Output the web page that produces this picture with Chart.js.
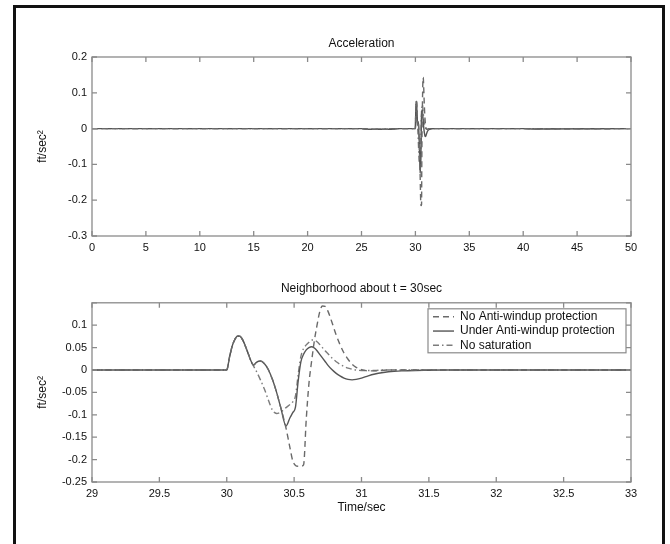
<!DOCTYPE html>
<html>
<head>
<meta charset="utf-8">
<script src="https://cdn.jsdelivr.net/npm/chart.js@4.4.0/dist/chart.umd.min.js"></script>
<style>
  body { margin: 0; background: #fff; }
  #wrap { position: relative; width: 670px; height: 544px; overflow: hidden; background: #fff; }
  #wrap canvas { position: absolute; left: 0; }
  #topChart { top: 0; }
  #bottomChart { top: 268px; }
  #frame { position: absolute; left: 13px; top: 5px; width: 646px; height: 600px; border: 3px solid #111; }
</style>
</head>
<body>
<div id="wrap">
  <canvas id="topChart" width="670" height="268"></canvas>
  <canvas id="bottomChart" width="670" height="276"></canvas>
  <div id="frame"></div>
</div>
<script>
// time samples (sec), shared by all three runs
const timeSec = [0, 25, 25.8, 27.5, 28.5, 29, 30, 30.02, 30.04, 30.06, 30.08, 30.1, 30.12, 30.14, 30.16, 30.18,
  30.2, 30.22, 30.25, 30.28, 30.31, 30.34, 30.37, 30.4, 30.44, 30.47, 30.49, 30.51, 30.53, 30.55, 30.57, 30.59,
  30.61, 30.63, 30.65, 30.67, 30.69, 30.71, 30.73, 30.75, 30.78, 30.81, 30.84, 30.87, 30.9, 30.93, 30.96, 31,
  31.05, 31.1, 31.15, 31.2, 31.3, 31.4, 31.6, 32, 33, 40, 41, 50];

// acceleration, ft/sec^2
const noAntiWindup = [0, 0, -0.002, -0.002, 0, 0, 0, 0.028, 0.053, 0.068, 0.076, 0.075, 0.066, 0.052, 0.036, 0.02,
  0.011, 0.017, 0.02, 0.014, 0, -0.022, -0.05, -0.083, -0.13, -0.175, -0.203, -0.213, -0.215, -0.215, -0.212, -0.11,
  -0.03, 0.02, 0.065, 0.1, 0.13, 0.143, 0.142, 0.132, 0.107, 0.08, 0.057, 0.038, 0.024, 0.013, 0.006, 0.001,
  -0.002, -0.002, -0.001, 0, 0, 0, 0, 0, 0, 0, -0.001, 0];
const underAntiWindup = [0, 0, -0.002, -0.002, 0, 0, 0, 0.028, 0.053, 0.068, 0.076, 0.075, 0.066, 0.052, 0.036, 0.02,
  0.011, 0.017, 0.02, 0.014, 0, -0.022, -0.05, -0.083, -0.125, -0.106, -0.095, -0.083, -0.025, 0.018, 0.035, 0.045,
  0.05, 0.052, 0.049, 0.043, 0.035, 0.027, 0.019, 0.011, 0.001, -0.007, -0.013, -0.018, -0.021, -0.022, -0.021, -0.018,
  -0.013, -0.009, -0.006, -0.004, -0.002, -0.001, 0, 0, 0, 0, -0.001, 0];
const noSaturation = [0, 0, -0.002, -0.001, 0, 0, 0, 0.028, 0.053, 0.068, 0.076, 0.075, 0.066, 0.052, 0.036, 0.02,
  0.008, -0.003, -0.022, -0.043, -0.068, -0.09, -0.097, -0.094, -0.084, -0.077, -0.071, -0.058, -0.01, 0.03, 0.048, 0.056,
  0.062, 0.067, 0.067, 0.063, 0.057, 0.05, 0.043, 0.037, 0.027, 0.019, 0.013, 0.008, 0.004, 0.002, 0, -0.001,
  -0.001, -0.001, 0, 0, 0, 0, 0, 0, 0, 0, 0, 0];

const seriesLabels = ['No Anti-windup protection', 'Under Anti-windup protection', 'No saturation'];

// tick values
const topXTicks = [0, 5, 10, 15, 20, 25, 30, 35, 40, 45, 50];
const topYTicks = [0.2, 0.1, 0, -0.1, -0.2, -0.3];
const bottomXTicks = [29, 29.5, 30, 30.5, 31, 31.5, 32, 32.5, 33];
const bottomYTicks = [0.15, 0.1, 0.05, 0, -0.05, -0.1, -0.15, -0.2, -0.25];

const FONT = '"Liberation Sans", Arial, Helvetica, sans-serif';
const TEXT = '#111';
const AXIS = '#8a8a8a';
Chart.defaults.font.family = FONT;
Chart.defaults.font.size = 11;
Chart.defaults.color = TEXT;

function fmt(v) { return String(+Number(v).toFixed(2)); }

function toPoints(values) {
  return timeSec.map((t, i) => ({ x: t, y: values[i] }));
}

function makeDatasets() {
  return [
    { label: seriesLabels[0], data: toPoints(noAntiWindup), borderColor: '#6a6a6a', borderWidth: 1.4, borderDash: [6, 4] },
    { label: seriesLabels[1], data: toPoints(underAntiWindup), borderColor: '#555555', borderWidth: 1.4, borderDash: [] },
    { label: seriesLabels[2], data: toPoints(noSaturation), borderColor: '#7c7c7c', borderWidth: 1.4, borderDash: [6, 3, 1.5, 3] }
  ].map(d => Object.assign(d, { pointRadius: 0, fill: false, cubicInterpolationMode: 'monotone' }));
}

// matlab style box with inward ticks on all four sides
const boxTicks = {
  id: 'boxTicks',
  afterDatasetsDraw(chart) {
    const { ctx, chartArea: a, scales: { x, y } } = chart;
    ctx.save();
    ctx.strokeStyle = AXIS;
    ctx.lineWidth = 1.3;
    ctx.strokeRect(a.left, a.top, a.right - a.left, a.bottom - a.top);
    ctx.beginPath();
    x.ticks.forEach(t => {
      const px = x.getPixelForValue(t.value);
      ctx.moveTo(px, a.bottom); ctx.lineTo(px, a.bottom - 5);
      ctx.moveTo(px, a.top); ctx.lineTo(px, a.top + 5);
    });
    y.ticks.forEach(t => {
      const py = y.getPixelForValue(t.value);
      ctx.moveTo(a.left, py); ctx.lineTo(a.left + 5, py);
      ctx.moveTo(a.right, py); ctx.lineTo(a.right - 5, py);
    });
    ctx.stroke();
    ctx.restore();
  }
};

// boxed legend inside the top right corner of the plot
const legendBox = {
  id: 'legendBox',
  afterDraw(chart, args, opts) {
    if (!opts.show) return;
    const { ctx, chartArea: a } = chart;
    const w = 198, h = 44;
    const left = a.right - 203, top = a.top + 6;
    ctx.save();
    ctx.fillStyle = '#fff';
    ctx.fillRect(left, top, w, h);
    ctx.strokeStyle = AXIS;
    ctx.lineWidth = 1.2;
    ctx.strokeRect(left, top, w, h);
    ctx.font = '12px ' + FONT;
    ctx.textBaseline = 'middle';
    chart.data.datasets.forEach((ds, i) => {
      const cy = top + 8 + i * 14.25;
      ctx.strokeStyle = ds.borderColor;
      ctx.lineWidth = ds.borderWidth;
      ctx.setLineDash(ds.borderDash);
      ctx.beginPath();
      ctx.moveTo(left + 5, cy);
      ctx.lineTo(left + 26, cy);
      ctx.stroke();
      ctx.setLineDash([]);
      ctx.fillStyle = TEXT;
      ctx.fillText(ds.label, left + 32, cy);
    });
    ctx.restore();
  }
};

function makeChart(id, cfg) {
  return new Chart(document.getElementById(id), {
    type: 'line',
    data: { datasets: makeDatasets() },
    plugins: [boxTicks, legendBox],
    options: {
      responsive: false,
      animation: false,
      devicePixelRatio: 1,
      layout: { padding: { left: 0, right: 39, top: 0, bottom: 0 } },
      plugins: {
        legend: { display: false },
        tooltip: { enabled: false },
        legendBox: { show: cfg.legend },
        title: {
          display: true,
          text: cfg.title,
          fullSize: false,
          color: TEXT,
          font: { size: 12, weight: 'normal' },
          padding: cfg.titlePad
        }
      },
      scales: {
        x: {
          type: 'linear',
          min: cfg.xTicks[0],
          max: cfg.xTicks[cfg.xTicks.length - 1],
          grid: { display: false, drawTicks: false },
          border: { display: false },
          afterBuildTicks: s => { s.ticks = cfg.xTicks.map(v => ({ value: v })); },
          afterFit: s => { s.height = cfg.xHeight; },
          ticks: { padding: 5, maxRotation: 0, autoSkip: false, callback: v => fmt(v) },
          title: cfg.xTitle ? {
            display: true, text: cfg.xTitle, color: TEXT, font: { size: 12 },
            padding: { top: 0, bottom: cfg.xTitlePad }
          } : { display: false }
        },
        y: {
          type: 'linear',
          min: cfg.yMin,
          max: cfg.yMax,
          grid: { display: false, drawTicks: false },
          border: { display: false },
          afterBuildTicks: s => { s.ticks = cfg.yTicks.map(v => ({ value: v })); },
          afterFit: s => { s.width = 92; },
          ticks: {
            padding: 5, autoSkip: false,
            callback: v => (cfg.hideTop && v === cfg.yMax ? '' : fmt(v))
          },
          title: {
            display: true, text: 'ft/sec²', color: TEXT, font: { size: 12 },
            padding: { top: 35.8, bottom: 0 }
          }
        }
      }
    }
  });
}

makeChart('topChart', {
  title: 'Acceleration',
  titlePad: { top: 36.8, bottom: 5.8 },
  xTicks: topXTicks, yTicks: topYTicks,
  yMin: -0.3, yMax: 0.2,
  xHeight: 32, legend: false, hideTop: false
});

makeChart('bottomChart', {
  title: 'Neighborhood about t = 30sec',
  titlePad: { top: 13.8, bottom: 6.6 },
  xTicks: bottomXTicks, yTicks: bottomYTicks,
  yMin: -0.25, yMax: 0.15,
  xHeight: 62, xTitle: 'Time/sec', xTitlePad: 29.3,
  legend: true, hideTop: true
});
</script>
</body>
</html>
